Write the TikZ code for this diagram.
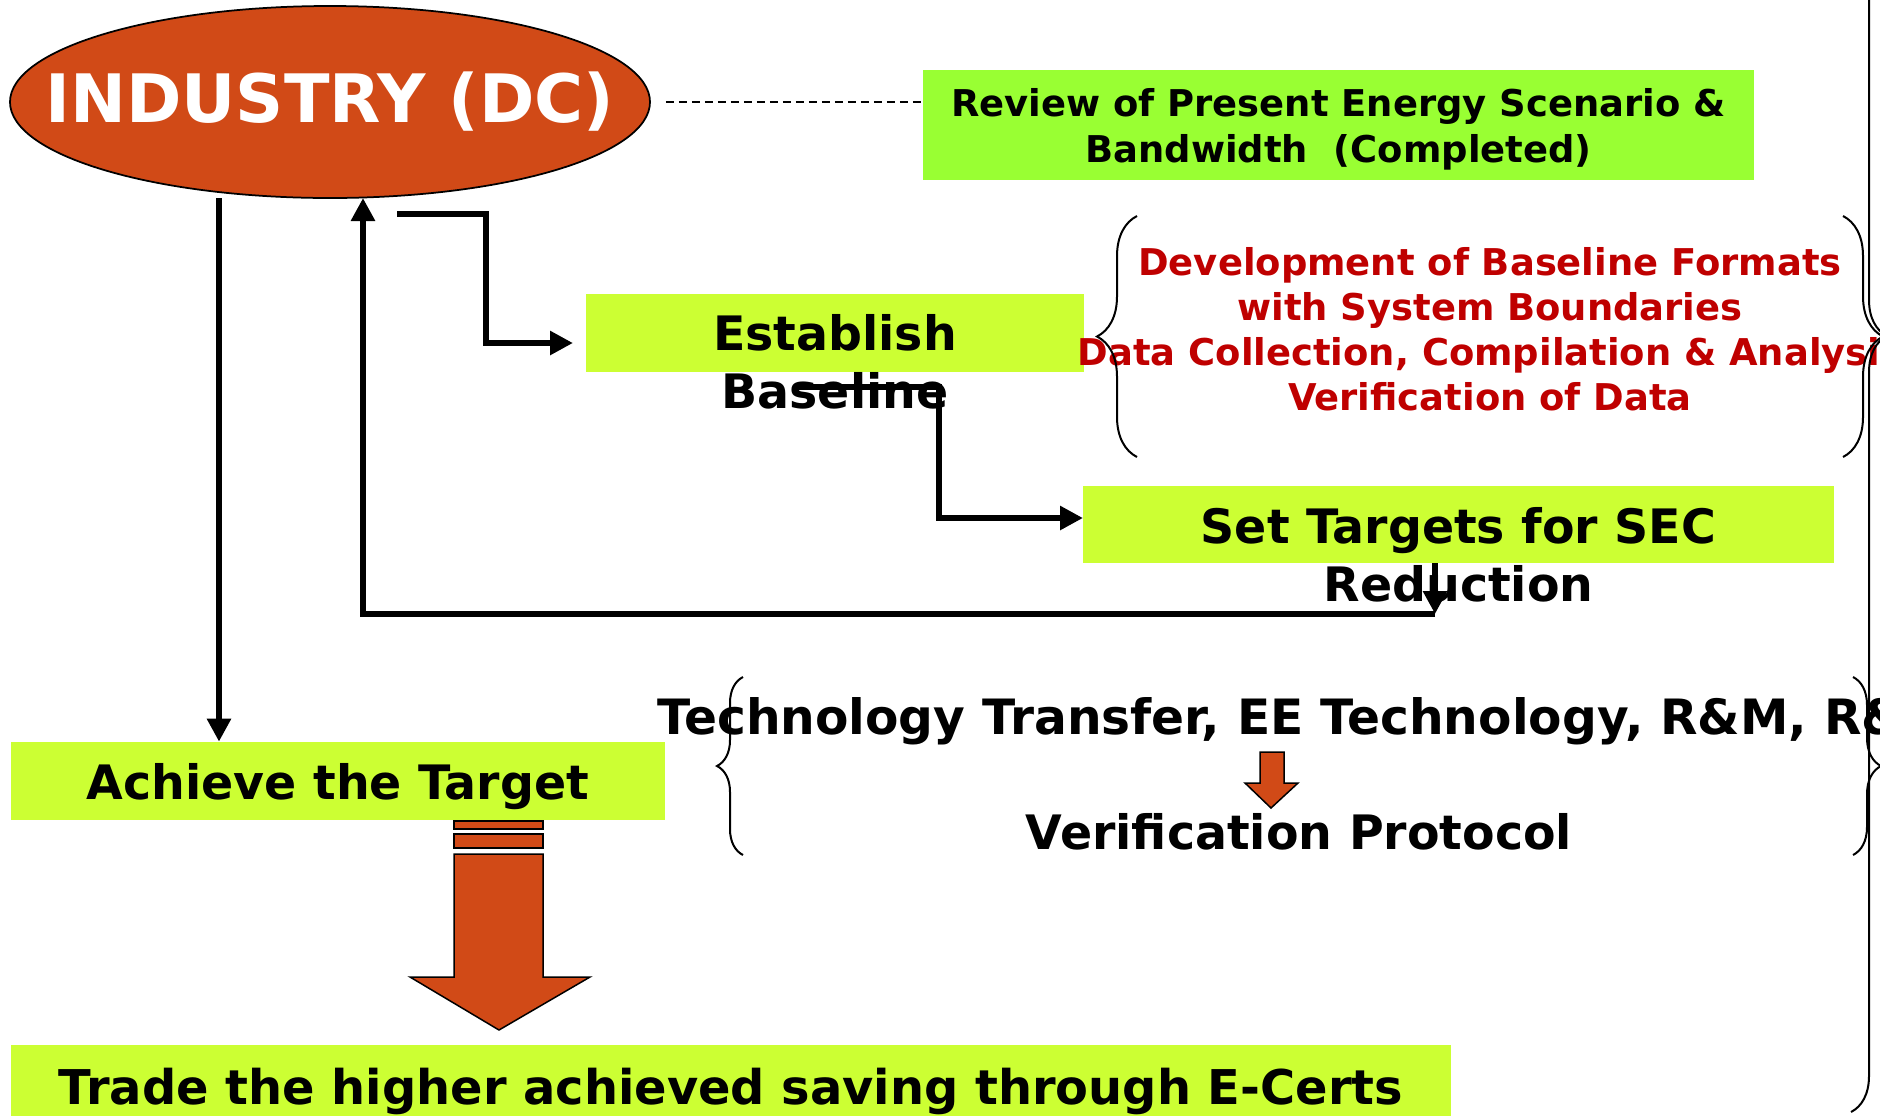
\documentclass[tikz,border=0pt]{standalone}
\usepackage{fontspec}
\setmainfont{DejaVu Sans}
\usetikzlibrary{arrows.meta,shapes.geometric,decorations.pathreplacing}
\definecolor{OvalClr}{rgb}{0.82,0.29,0.09}
\definecolor{ReviewClr}{rgb}{0.6,1,0.2}
\definecolor{StepClr}{rgb}{0.8,1,0.2}
\definecolor{NoteClr}{rgb}{0.75,0,0}

\begin{document}
\begin{tikzpicture}[x=0.2mm,y=0.2mm,
  stepbox/.style={rectangle,fill=StepClr,inner sep=0pt},
  bigtxt/.style={font=\fontsize{27}{33}\selectfont\bfseries,align=center,inner sep=0pt},
  flow/.style={line width=1.3mm,line join=miter,-{Triangle[length=4.6mm,width=4.6mm]}},
  brc/.style={decorate,line width=0.4mm,decoration={brace,amplitude=#1}},
  blockarr/.style={fill=OvalClr,draw=black,line width=0.3mm,line join=miter}]
\clip (0,0) rectangle (1880,-1115);

\node[ellipse,fill=OvalClr,draw=black,line width=0.35mm,minimum width=12.8cm,minimum height=3.84cm,inner sep=0pt,
  text=white,font=\fontsize{38}{44}\selectfont\bfseries] (ind) at (330,-102) {\makebox[0pt]{INDUSTRY (DC)}};
\node[rectangle,fill=ReviewClr,minimum width=16.62cm,minimum height=2.2cm,align=center,inner sep=0pt,
  font=\fontsize{21}{26}\selectfont\bfseries] (review) at (1338.5,-125) {};
\node[align=center,inner sep=0pt,font=\fontsize{21}{26}\selectfont\bfseries] (reviewtxt) at (1338.5,-129)
  {Review of Present Energy Scenario \&\\Bandwidth\ \ (Completed)};

\node[stepbox,minimum width=9.96cm,minimum height=1.56cm] (estab) at (835,-333) {};
\node[bigtxt] (estabtxt) at (835,-362) {Establish\\Baseline};
\node[stepbox,minimum width=15.02cm,minimum height=1.54cm] (tgt) at (1458.5,-524.5) {};
\node[bigtxt] (tgttxt) at (1458.5,-554.5) {Set Targets for SEC\\Reduction};
\node[stepbox,bigtxt,text depth=0pt,minimum width=13.08cm,minimum height=1.56cm] (achv) at (338,-781) {Achieve the Target};
\node[stepbox,bigtxt,text depth=0pt,minimum width=28.8cm,minimum height=1.64cm,
  font=\fontsize{27.25}{33}\selectfont\bfseries] (trade) at (731,-1086) {Trade the higher achieved saving through E-Certs};

\node[align=center,text=NoteClr,inner sep=0pt,font=\fontsize{21}{25.6}\selectfont\bfseries] (notes) at (1490,-329)
  {Development of Baseline Formats\\with System Boundaries\\Data Collection, Compilation \& Analysis\\Verification of Data};
\node[bigtxt,font=\fontsize{27.7}{33}\selectfont\bfseries] (tech) at (1301,-721) {Technology Transfer, EE Technology, R\&M, R\&D};
\node[bigtxt] (proto) at (1299,-832) {Verification Protocol};

\draw[brc=0.8cm] (1137,-457) -- (1137,-216);
\draw[brc=0.8cm] (1843,-216) -- (1843,-457);
\draw[brc=0.52cm] (743,-855) -- (743,-677);
\draw[brc=0.56cm] (1853,-677) -- (1853,-855);
\draw[brc=0.72cm] (1851,440) -- (1851,-1112);

\draw[dashed,line width=0.3mm,dash pattern=on 1.6mm off 1mm,shorten <=3mm] (ind.east) -- (review.west |- ind.east);

\coordinate (a0) at (219,-198);
\draw[flow] (a0) -- (a0 |- achv.north);
\coordinate (e0) at (397,-214);
\coordinate (e1) at (573,-343);
\draw[flow] (e0) -| (486,-343) -- (e1);
\coordinate (b0) at (797,-387);
\coordinate (b1) at (1083,-518);
\draw[flow] (b0) -| (939,-518) -- (b1);
\coordinate (f0) at (1435,-614);
\coordinate (f1) at (363,-198);
\draw[flow] (tgt.south -| f0) -- (f0);
\draw[flow] (f0) -| (f1);

\draw[blockarr] (454,-821) rectangle (543,-829);
\draw[blockarr] (454,-834) rectangle (543,-848);
\draw[blockarr] (454,-854) -- (543,-854) -- (543,-977) -- (590,-977) -- (499,-1030) -- (410,-977) -- (454,-977) -- cycle;
\draw[blockarr] (1260,-752) -- (1284,-752) -- (1284,-783) -- (1298,-783) -- (1271,-808) -- (1245,-783) -- (1260,-783) -- cycle;

\end{tikzpicture}
\end{document}
